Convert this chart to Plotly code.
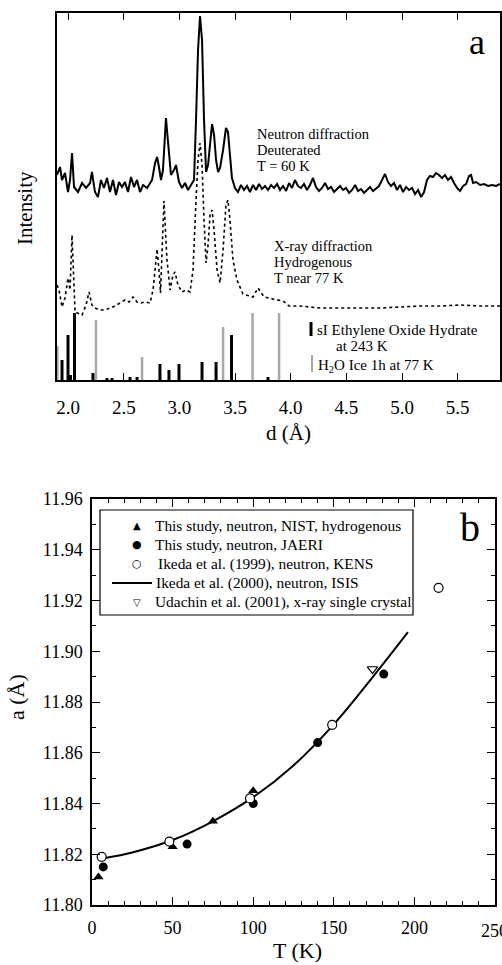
import plotly.graph_objects as go

# ---------------- Panel a data ----------------
# Neutron diffraction, deuterated, T = 60 K  (d in Angstrom, intensity arb. units above its baseline)
neutron_d = [1.900, 1.927, 1.945, 1.972, 1.999, 2.017, 2.035, 2.053, 2.089, 2.125, 2.161, 2.197, 2.214,
             2.241, 2.268, 2.295, 2.322, 2.349, 2.376, 2.403, 2.430, 2.457, 2.484, 2.511, 2.538, 2.565,
             2.592, 2.619, 2.646, 2.673, 2.709, 2.736, 2.754, 2.781, 2.799, 2.816, 2.834, 2.852, 2.866,
             2.879, 2.892, 2.906, 2.924, 2.951, 2.969, 2.996, 3.023, 3.050, 3.077, 3.104, 3.131, 3.149,
             3.167, 3.185, 3.203, 3.221, 3.239, 3.257, 3.275, 3.293, 3.311, 3.329, 3.347, 3.365, 3.392,
             3.418, 3.436, 3.454, 3.472, 3.499, 3.526, 3.553, 3.580, 3.607, 3.634, 3.661, 3.688, 3.715,
             3.742, 3.769, 3.796, 3.823, 3.850, 3.877, 3.904, 3.931, 3.958, 3.985, 4.011, 4.038, 4.065,
             4.092, 4.119, 4.146, 4.173, 4.200, 4.227, 4.254, 4.281, 4.308, 4.335, 4.362, 4.389, 4.416,
             4.443, 4.470, 4.497, 4.524, 4.551, 4.578, 4.605, 4.632, 4.658, 4.685, 4.712, 4.739, 4.766,
             4.793, 4.820, 4.847, 4.874, 4.901, 4.928, 4.955, 4.982, 5.009, 5.036, 5.063, 5.090, 5.117,
             5.144, 5.171, 5.198, 5.224, 5.251, 5.278, 5.305, 5.332, 5.359, 5.386, 5.413, 5.440, 5.467,
             5.494, 5.521, 5.548, 5.575, 5.602, 5.620, 5.638, 5.665, 5.701, 5.737, 5.773, 5.809, 5.845,
             5.880]
neutron_I = [15, 23, 10, 17, -2, 10, 37, 3, -2, 7, 2, 7, 18,
             -2, -7, 10, 2, 12, -2, 10, -5, 8, 3, 8, -2, 13,
             3, 10, -2, 5, 2, 7, 10, 27, 33, 23, 10, 20, 50,
             72, 55, 35, 15, 20, 25, 8, 2, 7, 0, 5, 10, 70,
             140, 174, 150, 70, 18, 25, 50, 66, 55, 30, 18, 22, 40,
             62, 58, 35, 12, 2, -2, 5, 0, 4, -2, 5, 0, 6,
             1, 4, 0, 5, 2, 6, 0, 4, -1, 7, 2, 10, 4,
             2, 6, 0, 5, 12, 3, -1, 2, 7, 1, 3, -2, 1,
             4, 0, 2, -3, 0, 5, -1, 1, -3, 0, 3, -1, 2,
             4, 10, 16, 8, 4, 7, 0, 5, -2, 3, 0, 2, -4,
             0, -7, -2, 10, 14, 13, 17, 15, 12, 15, 10, 13, 7,
             2, -1, 4, 6, 14, 15, 7, 8, 5, 6, 4, 5, 4,
             6]
NEUTRON_OFFSET = 190

# X-ray diffraction, hydrogenous, T near 77 K
xray_d = [1.900, 1.918, 1.945, 1.972, 1.999, 2.017, 2.035, 2.053, 2.062, 2.125, 2.161, 2.188, 2.214,
          2.241, 2.286, 2.331, 2.376, 2.421, 2.466, 2.511, 2.547, 2.583, 2.619, 2.655, 2.691, 2.736,
          2.763, 2.781, 2.799, 2.816, 2.830, 2.861, 2.888, 2.916, 2.942, 2.960, 2.987, 3.023, 3.059,
          3.095, 3.122, 3.149, 3.167, 3.185, 3.203, 3.221, 3.239, 3.257, 3.275, 3.293, 3.311, 3.338,
          3.365, 3.392, 3.418, 3.436, 3.454, 3.481, 3.517, 3.571, 3.661, 3.706, 3.760, 3.841, 3.931,
          3.985, 4.083, 4.173, 4.263, 4.443, 4.622, 4.802, 4.982, 5.162, 5.341, 5.521, 5.701, 5.880]
xray_I = [22, 17, 0, 9, 29, 17, 72, 27, -5, -8, 2, 15, 2,
          -1, -3, -3, -1, 1, 4, 7, 5, 10, 5, 4, 5, 4,
          17, 42, 58, 37, 14, 106, 47, 17, 32, 35, 22, 15, 17,
          15, 37, 107, 147, 164, 142, 87, 44, 62, 92, 97, 77, 37,
          24, 57, 102, 107, 87, 47, 27, 13, 10, 19, 10, 8, 6,
          1, 1, 0, -1, -1, -1, -1, 0, 1, 1, 2, 1, 1]
XRAY_OFFSET = 73

# Stick patterns
eo_hydrate_d = [1.945, 1.999, 2.021, 2.057, 2.223, 2.349, 2.394, 2.556, 2.619, 2.825, 2.906, 2.996,
                3.203, 3.329, 3.468, 3.796]
eo_hydrate_I = [20, 45, 5, 67, 7, 2, 2, 3, 3, 16, 10, 16, 18, 18, 45, 3]
ice_d = [1.904, 2.250, 2.664, 3.392, 3.657, 3.895]
ice_I = [34, 60, 23, 53, 67, 67]

d_ticks = [2.0, 2.5, 3.0, 3.5, 4.0, 4.5, 5.0, 5.5]
d_ticklabels = ["2.0", "2.5", "3.0", "3.5", "4.0", "4.5", "5.0", "5.5"]

# ---------------- Panel b data ----------------
nist_T = [4, 50, 75, 100]
nist_a = [11.811, 11.823, 11.833, 11.845]
jaeri_T = [7, 59, 100, 140, 181]
jaeri_a = [11.815, 11.824, 11.840, 11.864, 11.891]
kens_T = [6, 48, 98, 149, 215]
kens_a = [11.819, 11.825, 11.842, 11.871, 11.925]
isis_T = [8, 25, 50, 75, 100, 125, 150, 175, 196]
isis_a = [11.8185, 11.8207, 11.8256, 11.8330, 11.8425, 11.8550, 11.8712, 11.8905, 11.9075]
udachin_T = [174]
udachin_a = [11.893]

T_ticks = [0, 50, 100, 150, 200, 250]
a_ticks = [11.80, 11.82, 11.84, 11.86, 11.88, 11.90, 11.92, 11.94, 11.96]

legend_labels = ["This study, neutron, NIST, hydrogenous",
                 "This study, neutron, JAERI",
                 "Ikeda et al. (1999), neutron, KENS",
                 "Ikeda et al. (2000), neutron, ISIS",
                 "Udachin et al. (2001), x-ray single crystal"]
legend_glyphs = ["▲", "●", "○", None, "▽"]

W, H = 502, 965
FONT = "Liberation Serif"


def px(x, y):
    return x / W, 1 - y / H


def sticks(ds, Is):
    xs, ys = [], []
    for d, i in zip(ds, Is):
        xs += [d, d, None]
        ys += [0, i, None]
    return xs, ys


fig = go.Figure()

# ---- panel a traces ----
sx, sy = sticks(ice_d, ice_I)
fig.add_trace(go.Scatter(x=sx, y=sy, mode="lines", line=dict(color="#a8a8a8", width=2.5),
                         xaxis="x", yaxis="y", hoverinfo="skip"))
sx, sy = sticks(eo_hydrate_d, eo_hydrate_I)
fig.add_trace(go.Scatter(x=sx, y=sy, mode="lines", line=dict(color="black", width=3),
                         xaxis="x", yaxis="y", hoverinfo="skip"))
fig.add_trace(go.Scatter(x=xray_d, y=[v + XRAY_OFFSET for v in xray_I], mode="lines",
                         line=dict(color="black", width=1.6, dash="dot"),
                         xaxis="x", yaxis="y"))
fig.add_trace(go.Scatter(x=neutron_d, y=[v + NEUTRON_OFFSET for v in neutron_I], mode="lines",
                         line=dict(color="black", width=2),
                         xaxis="x", yaxis="y"))

# ---- panel b traces ----
fig.add_trace(go.Scatter(x=isis_T, y=isis_a, mode="lines", line=dict(color="black", width=2, shape="spline"),
                         name=legend_labels[3], xaxis="x2", yaxis="y2"))
fig.add_trace(go.Scatter(x=nist_T, y=nist_a, mode="markers",
                         marker=dict(symbol="triangle-up", size=9, color="black"),
                         name=legend_labels[0], xaxis="x2", yaxis="y2"))
fig.add_trace(go.Scatter(x=jaeri_T, y=jaeri_a, mode="markers",
                         marker=dict(symbol="circle", size=9, color="black"),
                         name=legend_labels[1], xaxis="x2", yaxis="y2"))
fig.add_trace(go.Scatter(x=kens_T, y=kens_a, mode="markers",
                         marker=dict(symbol="circle", size=9, color="white",
                                     line=dict(color="black", width=1.2)),
                         name=legend_labels[2], xaxis="x2", yaxis="y2"))
fig.add_trace(go.Scatter(x=udachin_T, y=udachin_a, mode="markers",
                         marker=dict(symbol="triangle-down", size=9, color="white",
                                     line=dict(color="black", width=1.2)),
                         name=legend_labels[4], xaxis="x2", yaxis="y2"))

axis_common = dict(showline=True, linecolor="black", linewidth=1.5, showgrid=False, zeroline=False,
                   automargin=False, tickcolor="black")

fig.update_layout(
    width=W, height=H, margin=dict(l=0, r=0, t=0, b=0),
    paper_bgcolor="white", plot_bgcolor="white",
    font=dict(family=FONT, color="black"),
    showlegend=False,
    xaxis=dict(domain=[57 / W, 500 / W], range=[1.90, 5.88], anchor="y",
               tickvals=d_ticks, ticktext=d_ticklabels, ticks="inside", ticklen=7, tickwidth=1.3,
               mirror="ticks", tickfont=dict(size=19, family=FONT), ticklabelstandoff=9,
               **axis_common),
    yaxis=dict(domain=[1 - 380 / H, 1 - 13 / H], range=[0, 367], anchor="x",
               showticklabels=False, ticks="", mirror=True, **axis_common),
    xaxis2=dict(domain=[92 / W, 495 / W], range=[0, 250], anchor="y2",
                tickvals=T_ticks, ticks="inside", ticklen=8, tickwidth=1.3, mirror="allticks",
                minor=dict(dtick=10, ticks="inside", ticklen=4, tickwidth=1.1, tickcolor="black"),
                tickfont=dict(size=18, family=FONT), ticklabelstandoff=6, **axis_common),
    yaxis2=dict(domain=[1 - 905 / H, 1 - 499 / H], range=[11.80, 11.96], anchor="x2",
                tickvals=a_ticks, tickformat=".2f", ticks="inside", ticklen=8, tickwidth=1.3,
                mirror="allticks",
                minor=dict(dtick=0.01, ticks="inside", ticklen=4, tickwidth=1.1, tickcolor="black"),
                tickfont=dict(size=18, family=FONT), ticklabelstandoff=4, **axis_common),
)

annotations = []


def add_text(text, x, y, size, xanchor="left", angle=0, family=FONT):
    fx, fy = px(x, y)
    annotations.append(dict(text=text, x=fx, y=fy, xref="paper", yref="paper", showarrow=False,
                            xanchor=xanchor, yanchor="middle", textangle=angle,
                            font=dict(family=family, size=size, color="black")))


add_text("Neutron diffraction", 255, 134, 14.5)
add_text("Deuterated", 255, 150, 14.5)
add_text("T = 60 K", 255, 166, 14.5)
add_text("X-ray diffraction", 272, 246, 14.5)
add_text("Hydrogenous", 272, 262, 14.5)
add_text("T near 77 K", 272, 278, 14.5)
add_text("sI Ethylene Oxide Hydrate", 315, 330, 15)
add_text("at 243 K", 334, 346, 15)
add_text("H<sub>2</sub>O Ice 1h at 77 K", 316, 366, 15)
add_text("a", 477, 42, 36, xanchor="center")
add_text("b", 470, 527, 40, xanchor="center")
add_text("Intensity", 25, 208, 21, xanchor="center", angle=-90)
add_text("d (Å)", 288, 433, 21, xanchor="center")
add_text("T (K)", 297, 950, 22, xanchor="center")
add_text("a (Å)", 16, 697, 22, xanchor="center", angle=-90)
# last tick label of panel b, cut by the page edge as in the original
add_text(str(T_ticks[-1]), 494, 931, 18, xanchor="center")

# manual key for panel b
row_y = [525, 544.5, 563.5, 583, 602]
text_x = [153, 153, 156, 154, 153]
glyph_sizes = [10, 11, 11, None, 10]
for lab, gl, yy, tx, gs in zip(legend_labels, legend_glyphs, row_y, text_x, glyph_sizes):
    add_text(lab, tx, yy, 15.4)
    if gl is not None:
        add_text(gl, 137, yy, gs, xanchor="center", family="DejaVu Sans")
fig.update_layout(annotations=annotations)

shapes = []
# key glyphs for the stick patterns
x0, y0 = px(311, 322)
x1, y1 = px(311, 336)
shapes.append(dict(type="line", xref="paper", yref="paper", x0=x0, y0=y0, x1=x1, y1=y1,
                   line=dict(color="black", width=3)))
x0, y0 = px(312, 355)
x1, y1 = px(312, 372)
shapes.append(dict(type="line", xref="paper", yref="paper", x0=x0, y0=y0, x1=x1, y1=y1,
                   line=dict(color="#a8a8a8", width=2)))
# legend box and line key for panel b
x0, y0 = px(100, 510)
x1, y1 = px(413, 615)
shapes.append(dict(type="rect", xref="paper", yref="paper", x0=x0, y0=y0, x1=x1, y1=y1,
                   line=dict(color="black", width=1.2), fillcolor="white", layer="above"))
x0, y0 = px(112, 583)
x1, y1 = px(152, 583)
shapes.append(dict(type="line", xref="paper", yref="paper", x0=x0, y0=y0, x1=x1, y1=y1,
                   line=dict(color="black", width=2), layer="above"))
fig.update_layout(shapes=shapes)

fig.write_html("out.html", config={"displayModeBar": False},
               post_script="document.body.style.margin='0';")
